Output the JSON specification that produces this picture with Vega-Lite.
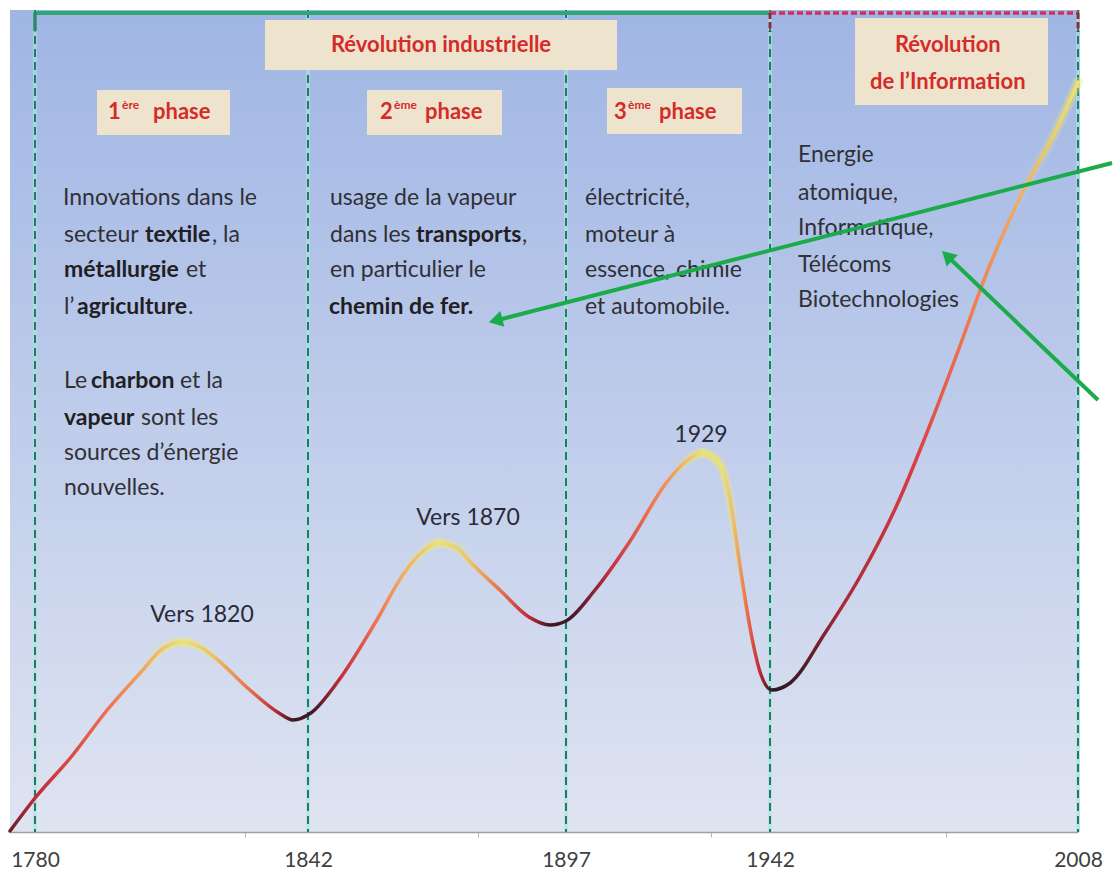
{
  "$schema": "https://vega.github.io/schema/vega-lite/v6.json",
  "width": 1070,
  "height": 822,
  "autosize": {"type": "none"},
  "padding": {"left": 10, "top": 10, "right": 35, "bottom": 43},
  "background": "white",
  "config": {
    "view": {
      "stroke": null,
      "fill": {"gradient": "linear", "x1": 0, "y1": 0, "x2": 0, "y2": 1,
        "stops": [{"offset": 0, "color": "#9fb5e4"}, {"offset": 0.45, "color": "#bccaea"}, {"offset": 1, "color": "#dfe4f1"}]}
    }
  },
  "datasets": {
    "courbe": [
      {"annee": 1774.0, "niveau": 1}, {"annee": 1780.2, "niveau": 35}, {"annee": 1788.2, "niveau": 75}, {"annee": 1796.4, "niveau": 122},
      {"annee": 1804.5, "niveau": 162}, {"annee": 1808.6, "niveau": 182}, {"annee": 1813.4, "niveau": 190}, {"annee": 1817.5, "niveau": 185},
      {"annee": 1820.7, "niveau": 175}, {"annee": 1828.8, "niveau": 142}, {"annee": 1835.4, "niveau": 119}, {"annee": 1838.6, "niveau": 112},
      {"annee": 1842.6, "niveau": 119}, {"annee": 1848.6, "niveau": 152}, {"annee": 1856.3, "niveau": 209}, {"annee": 1862.5, "niveau": 259},
      {"annee": 1866.1, "niveau": 279}, {"annee": 1869.9, "niveau": 289}, {"annee": 1873.8, "niveau": 284}, {"annee": 1876.8, "niveau": 269},
      {"annee": 1882.9, "niveau": 242}, {"annee": 1889.1, "niveau": 215}, {"annee": 1893.6, "niveau": 207}, {"annee": 1897.0, "niveau": 211},
      {"annee": 1903.4, "niveau": 242}, {"annee": 1911.3, "niveau": 292}, {"annee": 1919.1, "niveau": 349}, {"annee": 1923.3, "niveau": 370},
      {"annee": 1927.0, "niveau": 379}, {"annee": 1930.8, "niveau": 369}, {"annee": 1933.2, "niveau": 332}, {"annee": 1935.4, "niveau": 265},
      {"annee": 1937.8, "niveau": 199}, {"annee": 1939.8, "niveau": 160}, {"annee": 1942.4, "niveau": 142}, {"annee": 1946.3, "niveau": 149},
      {"annee": 1953.8, "niveau": 199}, {"annee": 1961.5, "niveau": 257}, {"annee": 1969.0, "niveau": 325}, {"annee": 1976.7, "niveau": 412},
      {"annee": 1982.7, "niveau": 486}, {"annee": 1988.1, "niveau": 555}, {"annee": 1995.6, "niveau": 635}, {"annee": 2003.3, "niveau": 702},
      {"annee": 2008.0, "niveau": 750}
    ],
    "reperes": [{"annee": 1780}, {"annee": 1842}, {"annee": 1897}, {"annee": 1942}, {"annee": 2008}],
    "accolades": [
      {"annee": 1780, "annee_fin": 1942, "periode": "Révolution industrielle"},
      {"annee": 1942, "annee_fin": 2008, "periode": "Révolution de l’Information"}
    ],
    "cadres": [
      {"annee": 1832.23, "annee_fin": 1908.25, "niveau": 812, "niveau_fin": 762},
      {"annee": 1960.22, "annee_fin": 2001.58, "niveau": 814, "niveau_fin": 727},
      {"annee": 1794.08, "annee_fin": 1824.28, "niveau": 742, "niveau_fin": 697},
      {"annee": 1854.58, "annee_fin": 1883.36, "niveau": 742, "niveau_fin": 697},
      {"annee": 1906.04, "annee_fin": 1935.83, "niveau": 744, "niveau_fin": 698}
    ],
    "titres": [
      {"annee": 1870.36, "niveau": 787, "texte": "Révolution industrielle"},
      {"annee": 1980.1, "niveau": 787, "texte": "Révolution"},
      {"annee": 1980.1, "niveau": 750, "texte": "de l’Information"}
    ],
    "phases": [
      {"annee": 1796.58, "niveau": 720, "num": "1", "sup": "ère", "mot": "phase"},
      {"annee": 1857.35, "niveau": 720, "num": "2", "sup": "ème", "mot": "phase"},
      {"annee": 1907.59, "niveau": 720, "num": "3", "sup": "ème", "mot": "phase"}
    ],
    "textes": [
      {"annee": 1786.36, "niveau": 634, "texte": "Innovations dans le", "gras": false},
      {"annee": 1786.59, "niveau": 597, "texte": "secteur", "gras": false},
      {"annee": 1804.98, "niveau": 597, "texte": "textile", "gras": true},
      {"annee": 1820.2, "niveau": 597, "texte": ",  la", "gras": false},
      {"annee": 1786.59, "niveau": 562, "texte": "métallurgie", "gras": true},
      {"annee": 1814.29, "niveau": 562, "texte": "et", "gras": false},
      {"annee": 1786.59, "niveau": 525, "texte": "l’", "gras": false},
      {"annee": 1789.54, "niveau": 525, "texte": "agriculture", "gras": true},
      {"annee": 1814.75, "niveau": 525, "texte": ".", "gras": false},
      {"annee": 1786.59, "niveau": 451, "texte": "Le", "gras": false},
      {"annee": 1792.72, "niveau": 451, "texte": "charbon", "gras": true},
      {"annee": 1812.93, "niveau": 451, "texte": "et la", "gras": false},
      {"annee": 1786.59, "niveau": 414, "texte": "vapeur", "gras": true},
      {"annee": 1804.07, "niveau": 414, "texte": "sont les", "gras": false},
      {"annee": 1786.59, "niveau": 379, "texte": "sources d’énergie", "gras": false},
      {"annee": 1786.59, "niveau": 344, "texte": "nouvelles.", "gras": false},
      {"annee": 1846.69, "niveau": 634, "texte": "usage de la vapeur", "gras": false},
      {"annee": 1846.69, "niveau": 597, "texte": "dans les", "gras": false},
      {"annee": 1865.03, "niveau": 597, "texte": "transports", "gras": true},
      {"annee": 1887.6, "niveau": 597, "texte": ",", "gras": false},
      {"annee": 1846.69, "niveau": 562, "texte": "en particulier le", "gras": false},
      {"annee": 1846.48, "niveau": 525, "texte": "chemin de fer.", "gras": true},
      {"annee": 1901.19, "niveau": 634, "texte": "électricité,", "gras": false},
      {"annee": 1901.19, "niveau": 597, "texte": "moteur à", "gras": false},
      {"annee": 1901.19, "niveau": 562, "texte": "essence, chimie", "gras": false},
      {"annee": 1901.19, "niveau": 525, "texte": "et automobile.", "gras": false},
      {"annee": 1948.0, "niveau": 677, "texte": "Energie", "gras": false},
      {"annee": 1948.0, "niveau": 639, "texte": "atomique,", "gras": false},
      {"annee": 1948.0, "niveau": 604, "texte": "Informatique,", "gras": false},
      {"annee": 1948.0, "niveau": 567, "texte": "Télécoms", "gras": false},
      {"annee": 1948.0, "niveau": 532, "texte": "Biotechnologies", "gras": false}
    ],
    "pics": [
      {"annee": 1817.93, "niveau": 217, "texte": "Vers 1820"},
      {"annee": 1876.11, "niveau": 314, "texte": "Vers 1870"},
      {"annee": 1926.78, "niveau": 397, "texte": "1929"}
    ],
    "fleches": [
      {"cible": "chemin de fer", "annee": 2015.29, "niveau": 669, "annee_fin": 1882.47, "niveau_fin": 512},
      {"cible": "informatique", "annee": 2012.29, "niveau": 432, "annee_fin": 1980.32, "niveau_fin": 574.5}
    ]
  },
  "encoding": {
    "x": {
      "field": "annee", "type": "quantitative",
      "scale": {"domain": [1774, 1780, 1842, 1897, 1942, 2008], "range": [0, 25, 298, 556, 760, 1068], "nice": false, "zero": false},
      "axis": {"values": [1780, 1827.7, 1842, 1878.2, 1897, 1929, 1942, 1979.7, 2008], "format": "d", "title": null, "grid": false,
        "ticks": true, "tickSize": 5, "tickColor": "#b8b8b8", "tickWidth": 1,
        "tickOpacity": {"condition": {"test": "indexof([1780, 1842, 1897, 1942, 2008], datum.value) < 0", "value": 1}, "value": 0},
        "labelExpr": "indexof([1780, 1842, 1897, 1942, 2008], datum.value) < 0 ? '' : datum.label",
        "domainColor": "#a0a0a0", "domainWidth": 1.5, "labelFont": "Lato", "labelFontSize": 21, "labelColor": "#404040",
        "labelPadding": 12, "labelFlush": false}
    }
  },
  "layer": [
    {
      "data": {"name": "reperes"},
      "mark": {"type": "rule", "color": "#a6e6dc", "strokeWidth": 4, "opacity": 0.6},
      "encoding": {}
    },
    {
      "data": {"name": "reperes"},
      "mark": {"type": "rule", "color": "#1f7a68", "strokeWidth": 2, "strokeDash": [8, 5]},
      "encoding": {}
    },
    {
      "data": {"name": "accolades"},
      "transform": [{"filter": "datum.annee == 1780"}],
      "mark": {"type": "rule", "color": "#2ea676", "strokeWidth": 4},
      "encoding": {"x2": {"field": "annee_fin"}, "y": {"datum": 819, "type": "quantitative", "scale": {"domain": [0, 822], "nice": false, "zero": false}, "axis": null}}
    },
    {
      "data": {"name": "accolades"},
      "transform": [{"filter": "datum.annee == 1780"}],
      "mark": {"type": "rule", "color": "#2a8a68", "strokeWidth": 3.5, "strokeCap": "round"},
      "encoding": {"y": {"datum": 819, "type": "quantitative", "scale": {"domain": [0, 822], "nice": false, "zero": false}, "axis": null}, "y2": {"datum": 802}}
    },
    {
      "data": {"name": "accolades"},
      "transform": [{"filter": "datum.annee == 1942"}],
      "mark": {"type": "rule", "color": "#d0305e", "strokeWidth": 3.5, "strokeDash": [6, 3]},
      "encoding": {"x2": {"field": "annee_fin"}, "y": {"datum": 819, "type": "quantitative", "scale": {"domain": [0, 822], "nice": false, "zero": false}, "axis": null}}
    },
    {
      "data": {"name": "accolades"},
      "transform": [{"filter": "datum.annee == 1942"}],
      "mark": {"type": "rule", "color": "#8a2a40", "strokeWidth": 3, "strokeDash": [6, 3]},
      "encoding": {"y": {"datum": 819, "type": "quantitative", "scale": {"domain": [0, 822], "nice": false, "zero": false}, "axis": null}, "y2": {"datum": 800}}
    },
    {
      "data": {"name": "accolades"},
      "transform": [{"filter": "datum.annee == 1942"}],
      "mark": {"type": "rule", "color": "#8a2a40", "strokeWidth": 3, "strokeDash": [6, 3]},
      "encoding": {"x": {"field": "annee_fin", "type": "quantitative"}, "y": {"datum": 819, "type": "quantitative", "scale": {"domain": [0, 822], "nice": false, "zero": false}, "axis": null}, "y2": {"datum": 800}}
    },
    {
      "data": {"name": "cadres"},
      "mark": {"type": "rect", "color": "#eee4cd"},
      "encoding": {"x2": {"field": "annee_fin"}, "y": {"field": "niveau", "type": "quantitative", "scale": {"domain": [0, 822], "nice": false, "zero": false}, "axis": null}, "y2": {"field": "niveau_fin"}}
    },
    {
      "data": {"name": "titres"},
      "mark": {"type": "text", "font": "Lato", "fontSize": 22, "fontWeight": "bold", "color": "#d42b2b", "align": "center", "baseline": "middle"},
      "encoding": {"y": {"field": "niveau", "type": "quantitative", "scale": {"domain": [0, 822], "nice": false, "zero": false}, "axis": null}, "text": {"field": "texte"}}
    },
    {
      "data": {"name": "phases"},
      "mark": {"type": "text", "font": "Lato", "fontSize": 22, "fontWeight": "bold", "color": "#d42b2b", "align": "left", "baseline": "middle"},
      "encoding": {"y": {"field": "niveau", "type": "quantitative", "scale": {"domain": [0, 822], "nice": false, "zero": false}, "axis": null}, "text": {"field": "num"}}
    },
    {
      "data": {"name": "phases"},
      "mark": {"type": "text", "font": "Lato", "fontSize": 12, "fontWeight": "bold", "color": "#d42b2b", "align": "left", "baseline": "middle", "dx": 14, "dy": -7},
      "encoding": {"y": {"field": "niveau", "type": "quantitative", "scale": {"domain": [0, 822], "nice": false, "zero": false}, "axis": null}, "text": {"field": "sup"}}
    },
    {
      "data": {"name": "phases"},
      "mark": {"type": "text", "font": "Lato", "fontSize": 22, "fontWeight": "bold", "color": "#d42b2b", "align": "left", "baseline": "middle", "dx": 45},
      "encoding": {"y": {"field": "niveau", "type": "quantitative", "scale": {"domain": [0, 822], "nice": false, "zero": false}, "axis": null}, "text": {"field": "mot"}}
    },
    {
      "data": {"name": "textes"},
      "transform": [{"filter": "!datum.gras"}],
      "mark": {"type": "text", "font": "Lato", "fontSize": 23, "color": "#303036", "align": "left", "baseline": "middle"},
      "encoding": {"y": {"field": "niveau", "type": "quantitative", "scale": {"domain": [0, 822], "nice": false, "zero": false}, "axis": null}, "text": {"field": "texte"}}
    },
    {
      "data": {"name": "textes"},
      "transform": [{"filter": "datum.gras"}],
      "mark": {"type": "text", "font": "Lato", "fontSize": 23, "fontWeight": "bold", "color": "#1f1f24", "align": "left", "baseline": "middle"},
      "encoding": {"y": {"field": "niveau", "type": "quantitative", "scale": {"domain": [0, 822], "nice": false, "zero": false}, "axis": null}, "text": {"field": "texte"}}
    },
    {
      "data": {"name": "courbe"},
      "mark": {"type": "line", "interpolate": "monotone", "strokeWidth": 10, "strokeCap": "round",
        "stroke": {"gradient": "linear", "x1": 0, "y1": 0, "x2": 1, "y2": 0, "stops": [
          {"offset": 0, "color": "rgba(240,232,110,0)"},
          {"offset": 0.12, "color": "rgba(240,232,110,0)"},
          {"offset": 0.161, "color": "rgba(240,232,110,0.5)"},
          {"offset": 0.2, "color": "rgba(240,232,110,0)"},
          {"offset": 0.365, "color": "rgba(240,232,110,0)"},
          {"offset": 0.402, "color": "rgba(240,232,110,0.5)"},
          {"offset": 0.44, "color": "rgba(240,232,110,0)"},
          {"offset": 0.62, "color": "rgba(240,232,110,0)"},
          {"offset": 0.648, "color": "rgba(240,232,110,0.55)"},
          {"offset": 0.672, "color": "rgba(240,232,110,0.35)"},
          {"offset": 0.685, "color": "rgba(240,232,110,0)"},
          {"offset": 0.94, "color": "rgba(240,232,110,0)"},
          {"offset": 1, "color": "rgba(240,232,110,0.4)"}
        ]}},
      "encoding": {"y": {"field": "niveau", "type": "quantitative", "scale": {"domain": [0, 822], "nice": false, "zero": false}, "axis": null}}
    },
    {
      "data": {"name": "courbe"},
      "mark": {"type": "line", "interpolate": "monotone", "strokeWidth": 3.5, "strokeCap": "round",
        "stroke": {"gradient": "linear", "x1": 0, "y1": 0, "x2": 1, "y2": 0, "stops": [
          {"offset": 0, "color": "#6a1f2a"},
          {"offset": 0.024, "color": "#c42a38"},
          {"offset": 0.091, "color": "#f07050"},
          {"offset": 0.131, "color": "#f3b060"},
          {"offset": 0.161, "color": "#ece36a"},
          {"offset": 0.191, "color": "#efc060"},
          {"offset": 0.225, "color": "#e8704a"},
          {"offset": 0.248, "color": "#c02a3a"},
          {"offset": 0.265, "color": "#3a1a22"},
          {"offset": 0.286, "color": "#4a1a26"},
          {"offset": 0.308, "color": "#c02a3a"},
          {"offset": 0.342, "color": "#f07050"},
          {"offset": 0.369, "color": "#f0b060"},
          {"offset": 0.402, "color": "#ece36a"},
          {"offset": 0.432, "color": "#eec060"},
          {"offset": 0.459, "color": "#e8704a"},
          {"offset": 0.486, "color": "#c02a3a"},
          {"offset": 0.506, "color": "#3a1a22"},
          {"offset": 0.529, "color": "#4a1a26"},
          {"offset": 0.562, "color": "#c63040"},
          {"offset": 0.599, "color": "#f07050"},
          {"offset": 0.627, "color": "#f0b060"},
          {"offset": 0.648, "color": "#ece36a"},
          {"offset": 0.667, "color": "#ece36a"},
          {"offset": 0.679, "color": "#efb860"},
          {"offset": 0.691, "color": "#e86a48"},
          {"offset": 0.702, "color": "#c02a3a"},
          {"offset": 0.713, "color": "#2a1a1e"},
          {"offset": 0.74, "color": "#4a1a26"},
          {"offset": 0.777, "color": "#a82838"},
          {"offset": 0.843, "color": "#d83a40"},
          {"offset": 0.899, "color": "#f07a50"},
          {"offset": 0.946, "color": "#f0b060"},
          {"offset": 1, "color": "#ece36a"}
        ]}},
      "encoding": {"y": {"field": "niveau", "type": "quantitative", "scale": {"domain": [0, 822], "nice": false, "zero": false}, "axis": null}}
    },
    {
      "data": {"name": "pics"},
      "mark": {"type": "text", "font": "Lato", "fontSize": 23, "color": "#2a2a38", "align": "center", "baseline": "middle"},
      "encoding": {"y": {"field": "niveau", "type": "quantitative", "scale": {"domain": [0, 822], "nice": false, "zero": false}, "axis": null}, "text": {"field": "texte"}}
    },
    {
      "data": {"name": "fleches"},
      "mark": {"type": "rule", "color": "#1aab4a", "strokeWidth": 4},
      "encoding": {"x2": {"field": "annee_fin"}, "y": {"field": "niveau", "type": "quantitative", "scale": {"domain": [0, 822], "nice": false, "zero": false}, "axis": null}, "y2": {"field": "niveau_fin"}}
    },
    {
      "data": {"name": "fleches"},
      "transform": [{"filter": "datum.cible == 'chemin de fer'"}],
      "mark": {"type": "point", "shape": "triangle", "filled": true, "color": "#1aab4a", "size": 260, "angle": 255.8, "opacity": 1},
      "encoding": {"x": {"field": "annee_fin", "type": "quantitative"}, "y": {"field": "niveau_fin", "type": "quantitative", "scale": {"domain": [0, 822], "nice": false, "zero": false}, "axis": null}}
    },
    {
      "data": {"name": "fleches"},
      "transform": [{"filter": "datum.cible == 'informatique'"}],
      "mark": {"type": "point", "shape": "triangle", "filled": true, "color": "#1aab4a", "size": 260, "angle": 313.7, "opacity": 1},
      "encoding": {"x": {"field": "annee_fin", "type": "quantitative"}, "y": {"field": "niveau_fin", "type": "quantitative", "scale": {"domain": [0, 822], "nice": false, "zero": false}, "axis": null}}
    }
  ]
}
